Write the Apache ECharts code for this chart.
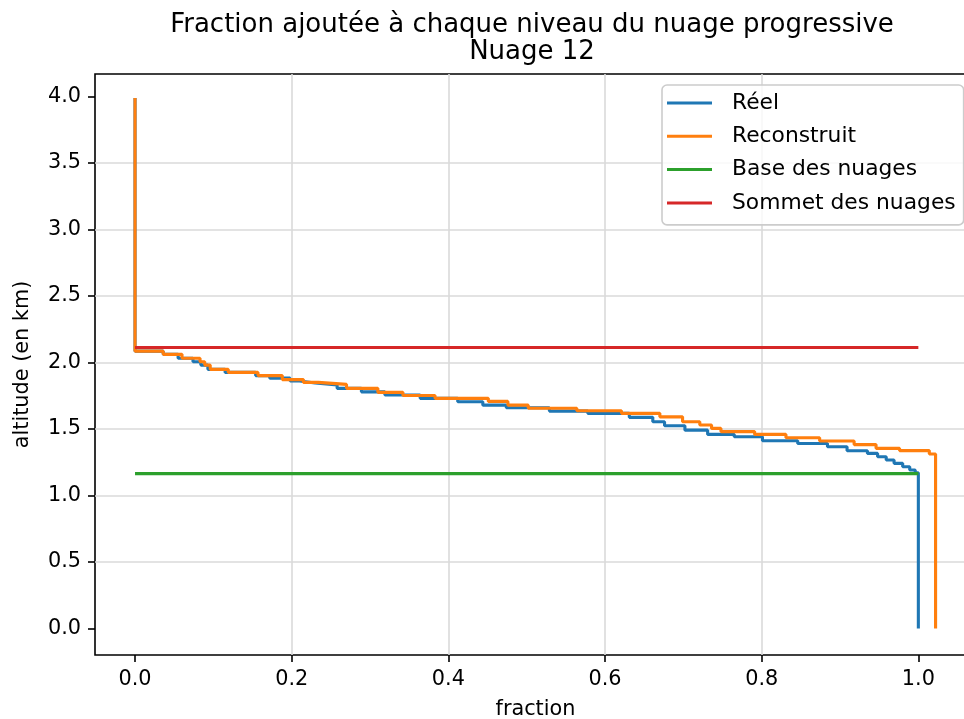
<!DOCTYPE html>
<html><head><meta charset="utf-8">
<script src="https://cdn.jsdelivr.net/npm/echarts@6/dist/echarts.min.js"></script>
<style>html,body{margin:0;padding:0;background:#fff}#c{width:964px;height:719px}</style>
</head><body><div id="c"></div>
<script>
// ---- data ----
const reelFraction = [0, 0.036, 0.055, 0.074, 0.084, 0.093, 0.115, 0.154, 0.172, 0.198,
  0.210, 0.230, 0.258, 0.289, 0.319, 0.364, 0.412, 0.444, 0.474, 0.529,
  0.578, 0.631, 0.661, 0.676, 0.702, 0.731, 0.765, 0.801, 0.846, 0.884,
  0.909, 0.935, 0.948, 0.959, 0.969, 0.980, 0.989, 0.996, 1.000, 1.000];
const reelAltitude = [3.99, 2.086, 2.062, 2.032, 2.006, 1.981, 1.949, 1.926, 1.902, 1.883,
  1.861, 1.846, 1.831, 1.806, 1.780, 1.756, 1.731, 1.705, 1.680, 1.660,
  1.635, 1.618, 1.588, 1.555, 1.525, 1.492, 1.460, 1.442, 1.412, 1.392,
  1.367, 1.337, 1.317, 1.292, 1.267, 1.242, 1.217, 1.192, 1.171, 0];
const reconFraction = [0, 0.036, 0.060, 0.083, 0.089, 0.096, 0.119, 0.157, 0.188, 0.215,
  0.234, 0.270, 0.310, 0.342, 0.383, 0.451, 0.476, 0.502, 0.564, 0.621,
  0.670, 0.699, 0.721, 0.736, 0.748, 0.791, 0.831, 0.874, 0.918, 0.946,
  0.976, 1.014, 1.022, 1.022];
const reconAltitude = [3.99, 2.086, 2.062, 2.032, 2.006, 1.981, 1.949, 1.926, 1.902, 1.872,
  1.851, 1.836, 1.806, 1.776, 1.752, 1.731, 1.708, 1.680, 1.656, 1.638,
  1.618, 1.592, 1.555, 1.530, 1.505, 1.481, 1.460, 1.435, 1.410, 1.383,
  1.355, 1.338, 1.312, 0];
const levelFraction = [0, 1.0];
const baseAltitude = 1.165;
const sommetAltitude = 2.113;
const xTicks = [0, 0.2, 0.4, 0.6, 0.8, 1.0];
const yTicks = [0, 0.5, 1.0, 1.5, 2.0, 2.5, 3.0, 3.5, 4.0];
const seriesNames = ['Réel', 'Reconstruit', 'Base des nuages', 'Sommet des nuages'];
const seriesColors = ['#1f77b4', '#ff7f0e', '#2ca02c', '#d62728'];
const titleText = 'Fraction ajoutée à chaque niveau du nuage progressive\nNuage 12';

// ---- chart ----
const FONT = 'DejaVu Sans';
const pairs = (xs, ys) => xs.map((x, i) => [x, ys[i]]);
const chart = echarts.init(document.getElementById('c'));
const axisCommon = (ticks) => ({
  type: 'value',
  nameLocation: 'middle',
  nameTextStyle: { fontSize: 20.8, color: '#000', fontFamily: FONT },
  axisLine: { show: false, onZero: false },
  axisTick: { show: true, inside: false, length: 7, lineStyle: { color: '#000', width: 1.6 }, customValues: ticks },
  axisLabel: { customValues: ticks, formatter: v => v.toFixed(1), fontSize: 20.8, color: '#000', margin: 14, fontFamily: FONT },
  splitLine: { show: true, showMinLine: false, showMaxLine: false, lineStyle: { color: '#dadada', width: 1.6 } }
});
const lineSeries = (i, data, step) => ({
  name: seriesNames[i], type: 'line', data: data, step: step,
  symbol: 'none', showSymbol: false, animation: false,
  lineStyle: { color: seriesColors[i], width: 3.1 },
  itemStyle: { color: seriesColors[i] }
});
chart.setOption({
  animation: false,
  textStyle: { fontFamily: FONT },
  title: {
    text: titleText, left: 527, top: 7, textAlign: 'center',
    textStyle: { fontSize: 26, fontWeight: 'normal', color: '#000', lineHeight: 27, fontFamily: FONT }
  },
  grid: { left: 95, top: 74, right: -12, bottom: 64, show: true, borderColor: '#000', borderWidth: 1.6,
          containLabel: false, outerBoundsMode: 'none' },
  legend: {
    orient: 'vertical', left: 662, top: 85, padding: [7, 8, 11, 5], itemGap: 11.3,
    itemWidth: 60, itemHeight: 3,
    icon: 'path://M0,0h45v3h-45z M60,0h0.01v0.01h-0.01z',
    itemStyle: { borderWidth: 0 },
    backgroundColor: 'rgba(255,255,255,0.8)', borderColor: '#cccccc', borderWidth: 1.6, borderRadius: 5,
    textStyle: { fontSize: 21.8, color: '#000', lineHeight: 22, fontFamily: FONT },
    data: seriesNames
  },
  xAxis: Object.assign(axisCommon(xTicks), { min: -0.0511, max: 1.0736, splitNumber: 5, name: 'fraction', nameGap: 44 }),
  yAxis: Object.assign(axisCommon(yTicks), { min: -0.199, max: 4.17, splitNumber: 8, name: 'altitude (en km)', nameGap: 62, nameRotate: 90 }),
  series: [
    lineSeries(0, pairs(reelFraction, reelAltitude), 'start'),
    lineSeries(1, pairs(reconFraction, reconAltitude), 'start'),
    lineSeries(2, levelFraction.map(f => [f, baseAltitude]), false),
    lineSeries(3, levelFraction.map(f => [f, sommetAltitude]), false)
  ]
});
</script></body></html>
